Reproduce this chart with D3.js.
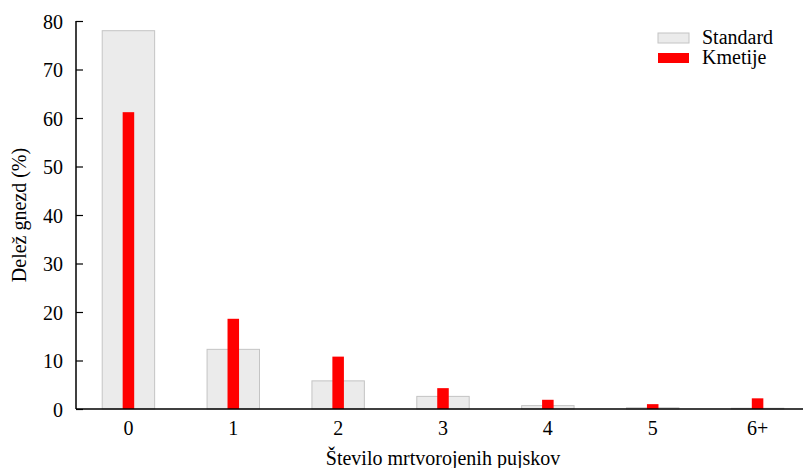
<!DOCTYPE html>
<html>
<head>
<meta charset="utf-8">
<script src="https://cdn.jsdelivr.net/npm/d3@7"></script>
<style>
  body { margin: 0; background: #fff; }
</style>
</head>
<body>
<svg id="chart" width="803" height="468"></svg>
<script>
const categories = ['0', '1', '2', '3', '4', '5', '6+'];
const standardValues = [78, 12.3, 5.8, 2.6, 0.7, 0.25, 0.15];
const kmetijeValues = [61.2, 18.6, 10.8, 4.3, 1.9, 1.0, 2.2];
const yTicks = [0, 10, 20, 30, 40, 50, 60, 70, 80];
const seriesNames = ['Standard', 'Kmetije'];

const FONT = "'Liberation Serif', 'Times New Roman', Tinos, 'DejaVu Serif', serif";

const svg = d3.select('#chart');
const plotL = 76, plotR = 810, plotT = 21, plotB = 409;

const x = d3.scaleBand().domain(categories).range([plotL, plotR]).padding(0);
const y = d3.scaleLinear().domain([0, 80]).range([plotB, plotT]);

const step = x.bandwidth();
const stdW = step * 0.5, redW = step * 0.11;

// standard bars (wide, grey)
svg.append('g').selectAll('rect').data(standardValues).join('rect')
  .attr('x', (_, i) => x(categories[i]) + step / 2 - stdW / 2)
  .attr('width', stdW)
  .attr('y', d => y(d))
  .attr('height', d => y(0) - y(d))
  .attr('fill', '#ebebeb').attr('stroke', '#c4c4c4').attr('stroke-width', 1);

// kmetije bars (narrow, red)
svg.append('g').selectAll('rect').data(kmetijeValues).join('rect')
  .attr('x', (_, i) => x(categories[i]) + step / 2 - redW / 2)
  .attr('width', redW)
  .attr('y', d => y(d))
  .attr('height', d => y(0) - y(d))
  .attr('fill', '#ff0000');

// y axis, ticks pointing inward
const yAxis = svg.append('g').attr('transform', `translate(${plotL},0)`)
  .call(d3.axisLeft(y).tickValues(yTicks).tickSize(-7).tickPadding(13));
yAxis.select('.domain').attr('d', `M0,${plotT}V${plotB}`).attr('stroke', '#000').attr('stroke-width', 1.5);
yAxis.selectAll('.tick line').attr('stroke', '#000').attr('stroke-width', 1.2);
yAxis.selectAll('text').attr('dy', '0.35em');

// x axis, no tick marks
const xAxis = svg.append('g').attr('transform', `translate(0,${plotB})`)
  .call(d3.axisBottom(x).tickSize(0).tickPadding(12));
xAxis.select('.domain').attr('d', `M${plotL},0H803`).attr('stroke', '#000').attr('stroke-width', 1.5);

// axis titles
svg.append('text').attr('x', (plotL + plotR) / 2).attr('y', 465)
  .attr('text-anchor', 'middle')
  .text('Število mrtvorojenih pujskov');
svg.append('text').attr('transform', `translate(26,${(plotT + plotB) / 2}) rotate(-90)`)
  .attr('text-anchor', 'middle')
  .text('Delež gnezd (%)');

// legend
const legend = svg.append('g').attr('transform', 'translate(658,33)');
seriesNames.forEach((name, i) => {
  const g = legend.append('g').attr('transform', `translate(0,${i * 20})`);
  g.append('rect').attr('width', 31).attr('height', 10)
    .attr('fill', i === 0 ? '#ebebeb' : '#ff0000')
    .attr('stroke', i === 0 ? '#c4c4c4' : 'none');
  g.append('text').attr('x', 44).attr('y', 11).text(name);
});

svg.selectAll('text')
  .style('font-family', FONT)
  .style('font-size', '20px')
  .attr('fill', '#000');
</script>
</body>
</html>
